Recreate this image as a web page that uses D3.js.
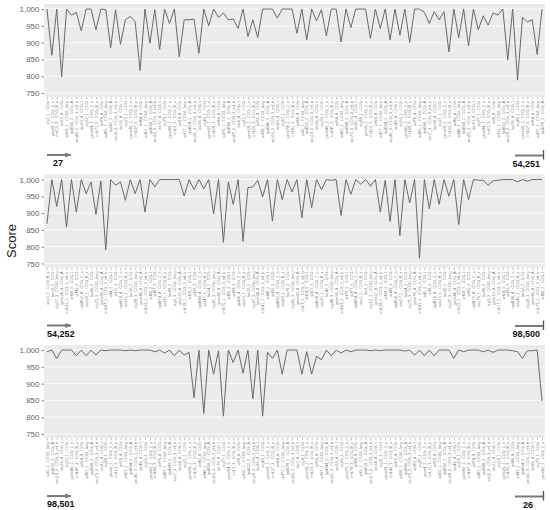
<!DOCTYPE html>
<html><head><meta charset="utf-8">
<script src="https://cdn.jsdelivr.net/npm/d3@7"></script>
<style>body{margin:0;background:#fff}svg{display:block}</style></head>
<body>
<svg id="chart" width="550" height="510"></svg>
<script>
// ---- data ----
const scores1 = [1000,862,1000,798,1000,982,990,935,1000,1000,
  938,1000,998,885,998,895,968,978,962,817,
  1000,898,998,880,1000,957,1000,858,968,968,
  970,868,1000,950,1000,975,988,968,970,942,
  1000,918,968,915,1000,1000,1000,973,1000,1000,
  1000,928,1000,908,1000,965,998,920,1000,1000,
  902,1000,945,1000,1000,1000,912,1000,942,1000,
  908,1000,922,1000,900,1000,1000,990,957,992,
  968,992,872,1000,915,1000,890,1000,938,980,
  952,988,982,1000,848,1000,788,975,962,968,
  865,1000];
const scores2 = [868,1000,920,1000,858,1000,903,1000,958,993,
  896,996,791,1000,983,993,938,1000,958,1000,
  903,1000,978,1000,1000,1000,1000,1000,951,1000,
  970,1000,973,1000,898,1000,813,993,926,1000,
  816,976,978,998,948,1000,876,1000,940,1000,
  963,1000,886,1000,916,1000,970,1000,998,1000,
  893,1000,956,1000,986,1000,980,1000,903,998,
  875,1000,833,1000,930,1000,766,1000,913,1000,
  926,1000,950,1000,866,1000,940,1000,998,998,
  983,996,998,1000,1000,1000,993,1000,995,1000,
  1000,1000];
const scores3 = [995,1000,975,1000,1000,1000,983,1000,983,1000,
  985,1000,998,1000,1000,1000,998,1000,998,1000,
  1000,1000,995,1000,991,1000,983,1000,985,993,
  858,1000,811,1000,928,998,803,1000,963,1000,
  931,1000,855,1000,803,993,975,1000,928,1000,
  1000,1000,928,995,928,981,971,1000,983,1000,
  991,1000,995,1000,1000,1000,998,1000,998,1000,
  1000,1000,1000,997,1000,985,1000,983,1000,983,
  1000,1000,1000,975,1000,995,1000,1000,1000,995,
  1000,993,1000,1000,1000,998,995,975,998,998,
  1000,848];
const startLabels = ["27", "54,252", "98,501"];
const endLabels = ["54,251", "98,500", "26"];
const yTicks = [750, 800, 850, 900, 950, 1000];
const yMinor = [775, 825, 875, 925, 975];
const yTitle = "Score";
const stems = ["ctg", "orf", "seq", "gene", "scf", "loc", "trnL", "rpoB"];
const suffixes = ["COG", "COG_A", "COG_B_x", "COG.1", "COG1_long", "COG_2_a", "COG_3_ref_b", "COG"];
// placeholder category names (illegible in the reference)
const makeCats = (vals, off) => vals.map((v, i) =>
  `${stems[(i * 3 + off) % stems.length]}${(i * 7 + off) % 90 + 1}_${(i % 4) + 1} - ${suffixes[(i * 5 + off) % suffixes.length]}`);
const categories1 = makeCats(scores1, 0);
const categories2 = makeCats(scores2, 2);
const categories3 = makeCats(scores3, 4);
const panels = [
  {scores: scores1, cats: categories1, start: startLabels[0], end: endLabels[0]},
  {scores: scores2, cats: categories2, start: startLabels[1], end: endLabels[1]},
  {scores: scores3, cats: categories3, start: startLabels[2], end: endLabels[2]}
];

// ---- drawing ----
const svg = d3.select("#chart");
const left = 44, right = 545, panelH = 93, step = 170.5, top0 = 4;
const font = "Liberation Sans, Arial, sans-serif";

svg.append("text").attr("transform", "translate(16,241) rotate(-90)")
  .attr("text-anchor", "middle").attr("font-family", font)
  .attr("font-size", 13).attr("fill", "#222").text(yTitle);

const defs = svg.append("defs");
defs.append("marker").attr("id", "arr").attr("viewBox", "0 0 10 10")
  .attr("refX", 9).attr("refY", 5).attr("markerWidth", 3.2).attr("markerHeight", 3.2)
  .attr("orient", "auto").append("path").attr("d", "M0,1 L10,5 L0,9 Z").attr("fill", "#7a7a7a");

panels.forEach((p, k) => {
  const top = top0 + k * step;
  const g = svg.append("g");
  const n = p.scores.length;
  const x = d3.scaleLinear().domain([-0.6, n - 1 + 0.6]).range([left, right]);
  const y = d3.scaleLinear().domain([738, 1015]).range([top + panelH, top]);

  g.append("rect").attr("x", left).attr("y", top).attr("width", right - left)
    .attr("height", panelH).attr("fill", "#EBEBEB");
  g.selectAll(".mn").data(yMinor).join("line")
    .attr("x1", left).attr("x2", right).attr("y1", d => y(d)).attr("y2", d => y(d))
    .attr("stroke", "#F4F4F4").attr("stroke-width", 0.6);
  g.selectAll(".mj").data(yTicks).join("line")
    .attr("x1", left).attr("x2", right).attr("y1", d => y(d)).attr("y2", d => y(d))
    .attr("stroke", "#FAFAFA").attr("stroke-width", 1);

  const ya = d3.axisLeft(y).tickValues(yTicks).tickFormat(d3.format(",")).tickSize(2.5).tickPadding(2);
  const yg = g.append("g").attr("transform", `translate(${left},0)`).call(ya);
  yg.select(".domain").remove();
  yg.selectAll("line").attr("stroke", "#888");
  yg.selectAll("text").attr("font-family", font)
    .attr("font-size", 8).attr("fill", "#666");

  const xa = d3.axisBottom(x).tickValues(d3.range(n)).tickFormat(i => p.cats[i]).tickSize(2.5).tickPadding(1);
  const xg = g.append("g").attr("transform", `translate(0,${top + panelH})`).call(xa);
  xg.select(".domain").remove();
  xg.selectAll("line").attr("stroke", "#999").attr("stroke-width", 0.6);
  xg.selectAll("text").attr("font-family", font)
    .attr("font-size", 3.8).attr("fill", "#777")
    .attr("transform", "rotate(-90)").attr("text-anchor", "end")
    .attr("dx", "-4").attr("dy", "1.2").attr("y", 0).attr("x", 0);

  const line = d3.line().x((d, i) => x(i)).y(d => y(d));
  g.append("path").datum(p.scores).attr("d", line).attr("fill", "none")
    .attr("stroke", "#6a6a6a").attr("stroke-width", 1).attr("stroke-linejoin", "miter");

  // range annotations
  const ay = top + 151;
  g.append("line").attr("x1", 47).attr("x2", 71).attr("y1", ay).attr("y2", ay)
    .attr("stroke", "#7a7a7a").attr("stroke-width", 2).attr("marker-end", "url(#arr)");
  g.append("text").attr("x", p.start.length > 3 ? 47 : 53).attr("y", ay + 11)
    .attr("font-family", font).attr("font-size", 9)
    .attr("font-weight", "bold").attr("fill", "#111").text(p.start);
  g.append("line").attr("x1", 515).attr("x2", 543.5).attr("y1", ay + 0.5).attr("y2", ay + 0.5)
    .attr("stroke", "#7a7a7a").attr("stroke-width", 2);
  g.append("line").attr("x1", 543.5).attr("x2", 543.5).attr("y1", ay - 5).attr("y2", ay + 4.5)
    .attr("stroke", "#555").attr("stroke-width", 1.3);
  g.append("text").attr("x", p.end.length > 3 ? 540 : 533).attr("y", ay + 11.5)
    .attr("text-anchor", "end")
    .attr("font-family", font).attr("font-size", 9)
    .attr("font-weight", "bold").attr("fill", "#111").text(p.end);
});
</script>
</body></html>
